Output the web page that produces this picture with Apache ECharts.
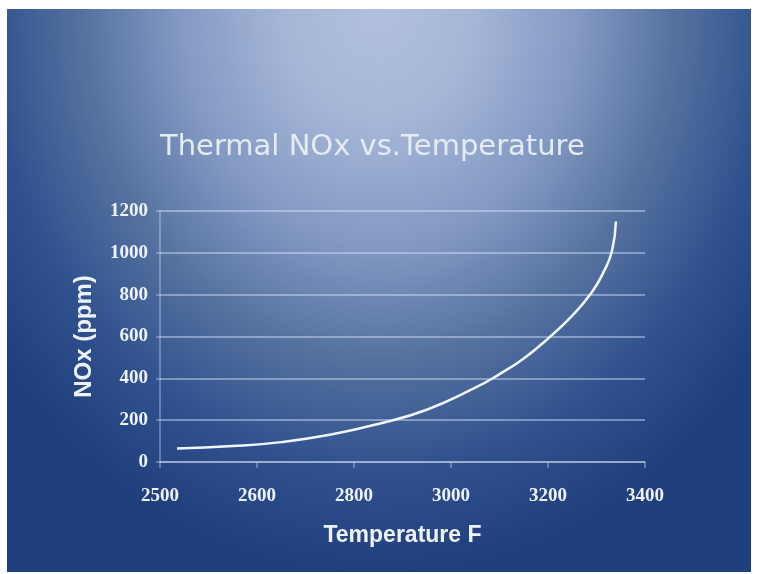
<!DOCTYPE html>
<html>
<head>
<meta charset="utf-8">
<script src="https://cdn.jsdelivr.net/npm/echarts@6/dist/echarts.min.js"></script>
<style>
  html, body { margin: 0; padding: 0; background: #fff; }
  #wrap { position: relative; width: 758px; height: 574px; }
  #bg {
    position: absolute; left: 7px; top: 9px; width: 744px; height: 563px;
    background: radial-gradient(ellipse 64% 100% at 50% 0%,
      #b2c0de 0%, #a5b6d7 20%, #8399c3 42%, #55729f 62%, #30518e 82%, #1f3f7d 100%);
  }
  #chart { position: absolute; left: 0; top: 0; width: 758px; height: 574px; }
</style>
</head>
<body>
<div id="wrap">
  <div id="bg"></div>
  <div id="chart"></div>
</div>
<script>
// curve
const temperature = [2435, 2550, 2650, 2750, 2850, 2950, 3050, 3100, 3150, 3200, 3250, 3290, 3315, 3332, 3340]
const noxPpm = [65, 76, 95, 130, 182, 250, 355, 420, 495, 590, 700, 810, 910, 1010, 1150]

// the slide's x tick labels (first one reads 2500)
const xTickLabels = ['2500', '2600', '2800', '3000', '3200', '3400']
const yTickLabels = ['0', '200', '400', '600', '800', '1000', '1200']

const myChart = echarts.init(document.getElementById('chart'))

const gridColor = 'rgba(215, 228, 250, 0.45)'

const option = {
  backgroundColor: 'transparent',
  title: {
    text: 'Thermal NOx vs.Temperature',
    left: 155,
    top: 128,
    textStyle: {
      fontFamily: 'DejaVu Sans',
      fontWeight: 'normal',
      fontSize: 29,
      color: '#e4ecf2'
    }
  },
  grid: {
    left: 160,
    right: 113,
    top: 211,
    bottom: 112
  },
  xAxis: {
    type: 'value',
    min: 2400,
    max: 3400,
    interval: 200,
    name: 'Temperature F',
    nameLocation: 'middle',
    nameGap: 62,
    nameTextStyle: {
      fontFamily: 'Liberation Sans',
      fontWeight: 'bold',
      fontSize: 23,
      color: '#eef3fa'
    },
    axisLine: { show: true, lineStyle: { color: gridColor, width: 1.5 } },
    axisTick: { show: true, length: 6, lineStyle: { color: gridColor, width: 1.5 } },
    splitLine: { show: false },
    axisLabel: {
      margin: 25,
      fontFamily: 'Liberation Serif',
      fontWeight: 'bold',
      fontSize: 19,
      color: '#eef3fa',
      formatter: v => xTickLabels[Math.round((v - 2400) / 200)]
    }
  },
  yAxis: {
    type: 'value',
    min: 0,
    max: 1200,
    interval: 200,
    name: 'NOx (ppm)',
    nameLocation: 'middle',
    nameGap: 64,
    nameTextStyle: {
      fontFamily: 'Liberation Sans',
      fontWeight: 'bold',
      fontSize: 24,
      color: '#eef3fa'
    },
    axisLine: { show: true, lineStyle: { color: gridColor, width: 1.5 } },
    axisTick: { show: true, length: 4, lineStyle: { color: gridColor, width: 1.5 } },
    splitLine: { show: true, lineStyle: { color: gridColor, width: 2 } },
    axisLabel: {
      margin: 12,
      fontFamily: 'Liberation Serif',
      fontWeight: 'bold',
      fontSize: 19,
      color: '#eef3fa',
      formatter: v => yTickLabels[Math.round(v / 200)]
    }
  },
  series: [
    {
      type: 'line',
      data: temperature.map((t, i) => [t, noxPpm[i]]),
      smooth: 0.5,
      showSymbol: false,
      lineStyle: { color: '#f2f6fc', width: 2.5 }
    }
  ]
}

myChart.setOption(option)
</script>
</body>
</html>
